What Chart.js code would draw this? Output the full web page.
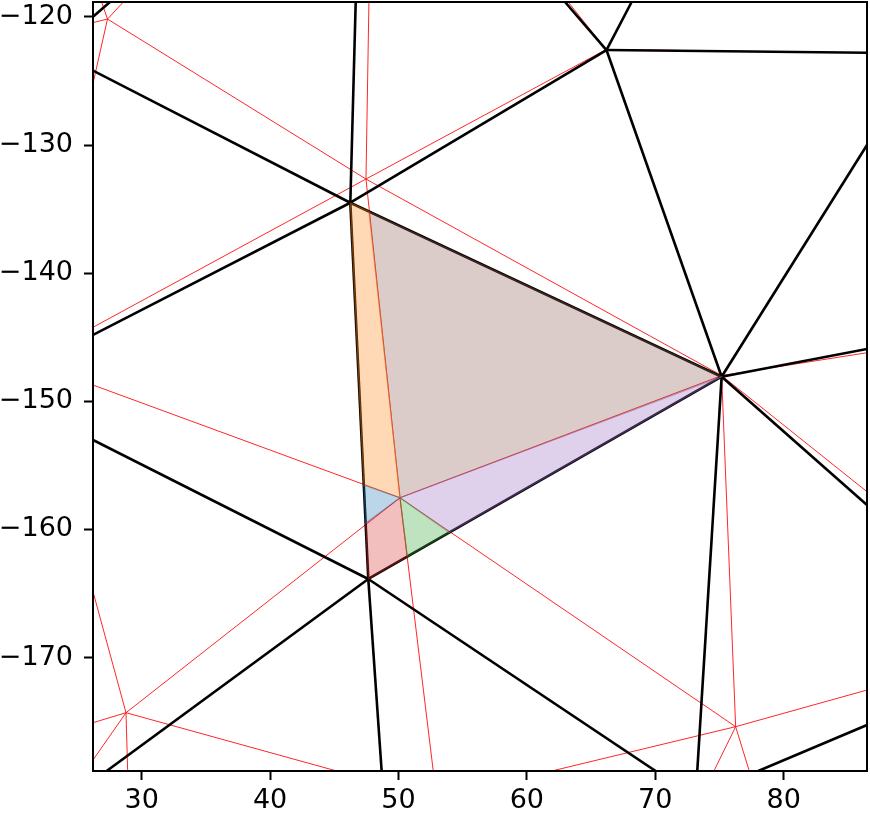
<!DOCTYPE html>
<html>
<head>
<meta charset="utf-8">
<script src="https://cdn.jsdelivr.net/npm/chart.js@4"></script>
<style>
  html, body { margin: 0; padding: 0; background: #fff; }
  #wrap { width: 870px; height: 813px; }
</style>
</head>
<body>
<div id="wrap"><canvas id="chart" width="870" height="813"></canvas></div>
<script>
// axis limits and ticks
const xRange = [26.21, 86.49];
const yRange = [-178.86, -118.83];
const xTicks = [30, 40, 50, 60, 70, 80];
const yTicks = [-120, -130, -140, -150, -160, -170];

// mesh vertices, black = before, red = after
const A = [46.25, -134.50], B = [75.17, -148.08], C = [47.65, -163.87], D = [66.20, -122.58];
const V1 = [27.34, -120.16], V2 = [47.47, -132.65], P = [50.12, -157.53];
const B2 = [75.17, -147.99], D2 = [66.17, -122.54], VBL = [28.78, -174.31], VBR = [76.26, -175.40];

const blackEdges = [
    [[26.21, -119.98], [27.53, -118.83]],
    [[26.21, -124.19], A],
    [A, [46.67, -118.83]],
    [A, D],
    [[26.21, -144.82], A],
    [[26.21, -153.02], C],
    [A, C], [A, B], [C, B],
    [C, [48.69, -178.86]],
    [C, [27.27, -178.86]],
    [C, [70.03, -178.86]],
    [D, B],
    [B, [86.49, -129.99]],
    [B, [86.49, -145.92]],
    [B, [86.49, -158.09]],
    [B, [73.27, -178.86]],
    [[78.02, -178.86], [86.49, -175.27]],
    [D, [68.16, -118.83]],
    [D, [86.49, -122.79]],
    [D, [62.97, -118.83]]
];

const redEdges = [
    [V1, [26.88, -118.83]], [V1, [28.57, -118.83]], [V1, [26.21, -120.44]], [V1, [26.21, -125.18]], [V1, V2],
    [V2, [47.70, -118.83]], [V2, D2], [V2, [26.21, -144.22]], [V2, B2], [V2, P],
    [P, [26.21, -148.73]], [P, VBL], [P, [52.71, -178.86]], [P, VBR], [P, B2],
    [B2, D2], [B2, [86.49, -129.99]], [B2, [86.49, -146.21]], [B2, [86.49, -157.06]], [B2, VBR],
    [D2, [63.22, -118.83]], [D2, [68.16, -118.83]], [D2, [86.49, -122.79]],
    [VBL, [26.21, -164.86]], [VBL, [26.21, -175.09]], [VBL, [26.21, -178.0]], [VBL, [28.91, -178.86]], [VBL, [45.19, -178.86]],
    [VBR, [61.93, -178.86]], [VBR, [86.49, -172.54]], [VBR, [74.57, -178.86]], [VBR, [77.32, -178.86]]
];

// swept patches
const Q1 = [47.70, -135.18], Q2 = [47.30, -156.53], Q3 = [47.44, -159.52], Q4 = [50.69, -162.13], Q5 = [53.96, -160.25];
const bluePatch = [Q2, P, Q3];
const orangePatch = [A, Q1, P, Q2];
const greenPatch = [P, Q4, Q5];
const redPatch = [Q3, P, Q4, C];
const purplePatch = [P, Q5, B];
const brownPatch = [Q1, B, P];

const patches = [
    { pts: bluePatch, rgb: "31,119,180" },
    { pts: orangePatch, rgb: "255,127,14" },
    { pts: greenPatch, rgb: "44,160,44" },
    { pts: redPatch, rgb: "214,39,40" },
    { pts: purplePatch, rgb: "148,103,189" },
    { pts: brownPatch, rgb: "140,86,75" }
];

const toXY = p => ({ x: p[0], y: p[1] });

const datasets = [];
patches.forEach(p => {
    const pts = p.pts.map(toXY);
    pts.push(toXY(p.pts[0]));
    datasets.push({
        data: pts,
        showLine: true,
        fill: "shape",
        backgroundColor: `rgba(${p.rgb},0.3)`,
        borderColor: `rgba(${p.rgb},0.35)`,
        borderWidth: 1.2,
        pointRadius: 0,
        order: 0
    });
});
blackEdges.forEach(e => {
    datasets.push({
        data: e.map(toXY),
        showLine: true,
        borderColor: "#000",
        borderWidth: 2.6,
        pointRadius: 0,
        order: 1
    });
});
redEdges.forEach(e => {
    datasets.push({
        data: e.map(toXY),
        showLine: true,
        borderColor: "rgba(255,0,0,0.85)",
        borderWidth: 1,
        pointRadius: 0,
        order: 2
    });
});

const frame = {
    id: "frame",
    afterDatasetsDraw(chart) {
        const { ctx, chartArea: a } = chart;
        ctx.save();
        ctx.strokeStyle = "#000";
        ctx.lineWidth = 2;
        ctx.strokeRect(a.left, a.top, a.right - a.left, a.bottom - a.top);
        ctx.restore();
    }
};

const tickFont = { family: "DejaVu Sans", size: 27 };

new Chart(document.getElementById("chart"), {
    type: "scatter",
    data: { datasets },
    options: {
        responsive: false,
        animation: false,
        layout: { padding: { top: 2, right: 3, left: 0, bottom: 0 } },
        plugins: { legend: { display: false }, tooltip: { enabled: false } },
        scales: {
            x: {
                type: "linear",
                min: xRange[0],
                max: xRange[1],
                afterBuildTicks: s => { s.ticks = xTicks.map(v => ({ value: v })); },
                afterFit: s => { s.height = 42; s.paddingLeft = 0; s.paddingRight = 0; },
                ticks: { font: tickFont, color: "#000", padding: 5, maxRotation: 0, callback: v => String(v) },
                grid: { drawOnChartArea: false, tickLength: 9, tickColor: "#000", tickWidth: 2 },
                border: { display: false }
            },
            y: {
                type: "linear",
                min: yRange[0],
                max: yRange[1],
                afterBuildTicks: s => { s.ticks = yTicks.map(v => ({ value: v })); },
                afterFit: s => { s.width = 93; s.paddingTop = 0; s.paddingBottom = 0; },
                ticks: { font: tickFont, color: "#000", padding: 11, callback: v => String(v).replace("-", "\u2212") },
                grid: { drawOnChartArea: false, tickLength: 9, tickColor: "#000", tickWidth: 2 },
                border: { display: false }
            }
        }
    },
    plugins: [frame]
});
</script>
</body>
</html>
